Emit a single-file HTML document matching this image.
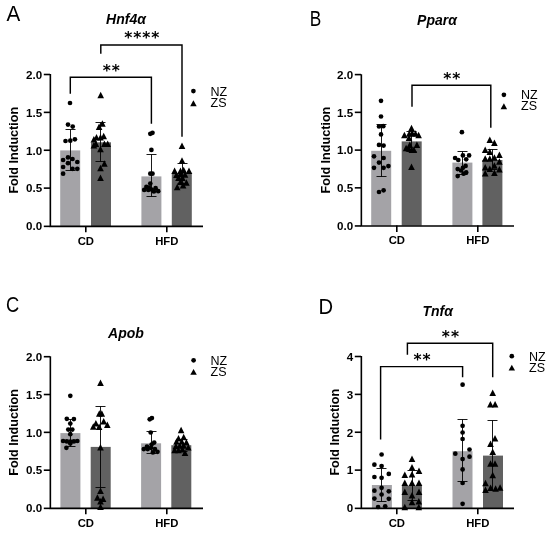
<!DOCTYPE html>
<html lang="en"><head><meta charset="utf-8"><title>Figure</title>
<style>
html,body{margin:0;padding:0;background:#fff;}
svg{display:block;}
text{font-family:"Liberation Sans",sans-serif;fill:#000;}
.pl{font-size:21.3px;}
.ti{font-size:14px;font-weight:bold;font-style:italic;}
.tk{font-size:11.6px;font-weight:bold;}
.xl{font-size:11.3px;}
.yl{font-size:12.6px;font-weight:bold;}
.lg{font-size:12.5px;}
.st{font-family:"DejaVu Sans","Liberation Sans",sans-serif;font-size:15.4px;font-weight:bold;letter-spacing:1.0px;}
.axl{stroke:#000;stroke-width:1.6;fill:none;}
.br{stroke:#000;stroke-width:1.45;fill:none;}
.eb{stroke:#000;stroke-width:0.9;fill:none;}
</style></head>
<body>
<svg width="550" height="534" viewBox="0 0 550 534">
<rect width="550" height="534" fill="#fff"/>
<g fill="#000">
<text class="pl" transform="translate(6.5 21.2) scale(0.97 1)">A</text>
<text class="ti" x="126" y="24.3" text-anchor="middle">Hnf4α</text>
<rect x="60.2" y="150.4" width="20" height="75.6" fill="#a4a3a7"/>
<rect x="91.0" y="142.3" width="20" height="83.7" fill="#616161"/>
<rect x="141.4" y="176.4" width="20" height="49.6" fill="#a4a3a7"/>
<rect x="171.8" y="173.7" width="20" height="52.3" fill="#616161"/>
<path class="axl" d="M50.35 74.05V227.15M49.55 226.35H203.0"/>
<path class="axl" d="M43.8 226.35H50"/>
<text class="tk" x="42.1" y="230.2" text-anchor="end">0.0</text>
<path class="axl" d="M43.8 188.12H50"/>
<text class="tk" x="42.1" y="192.4" text-anchor="end">0.5</text>
<path class="axl" d="M43.8 150.25H50"/>
<text class="tk" x="42.1" y="154.5" text-anchor="end">1.0</text>
<path class="axl" d="M43.8 112.38H50"/>
<text class="tk" x="42.1" y="116.6" text-anchor="end">1.5</text>
<path class="axl" d="M43.8 74.50H50"/>
<text class="tk" x="42.1" y="78.8" text-anchor="end">2.0</text>
<path class="axl" d="M85.8 226V232.3"/>
<text class="tk xl" x="85.8" y="244.6" text-anchor="middle">CD</text>
<path class="axl" d="M166.8 226V232.3"/>
<text class="tk xl" x="166.8" y="244.6" text-anchor="middle">HFD</text>
<text class="yl" transform="translate(18.3 150.2) rotate(-90)" text-anchor="middle">Fold Induction</text>
<circle cx="193.4" cy="91.1" r="2.35"/>
<polygon points="193.4,100.2 196.7,106.2 190.2,106.2"/>
<text class="lg" x="210.6" y="95.7">NZ</text>
<text class="lg" x="210.6" y="107.2">ZS</text>
<path class="eb" d="M70.5 129.5V170.5M65.5 129.5H75.5M65.5 170.5H75.5"/>
<path class="eb" d="M100.5 122.5V161.5M95.5 122.5H105.5M95.5 161.5H105.5"/>
<path class="eb" d="M151.5 154.5V196.5M146.5 154.5H156.5M146.5 196.5H156.5"/>
<path class="eb" d="M182.5 163.5V183.5M177.5 163.5H187.5M177.5 183.5H187.5"/>
<circle cx="70.0" cy="103.0" r="2.35"/>
<circle cx="68.0" cy="124.6" r="2.35"/>
<circle cx="72.7" cy="126.6" r="2.35"/>
<circle cx="65.5" cy="141.0" r="2.35"/>
<circle cx="70.3" cy="140.7" r="2.35"/>
<circle cx="74.9" cy="139.3" r="2.35"/>
<circle cx="68.0" cy="157.4" r="2.35"/>
<circle cx="72.5" cy="159.0" r="2.35"/>
<circle cx="63.1" cy="160.0" r="2.35"/>
<circle cx="77.3" cy="162.0" r="2.35"/>
<circle cx="68.0" cy="163.2" r="2.35"/>
<circle cx="63.1" cy="167.0" r="2.35"/>
<circle cx="72.5" cy="168.8" r="2.35"/>
<circle cx="77.3" cy="168.8" r="2.35"/>
<circle cx="63.1" cy="173.7" r="2.35"/>
<polygon points="100.7,91.8 104.0,98.3 97.4,98.3"/>
<polygon points="102.4,120.3 105.7,126.8 99.1,126.8"/>
<polygon points="99.1,123.5 102.4,130.0 95.8,130.0"/>
<polygon points="93.9,136.0 97.2,142.5 90.6,142.5"/>
<polygon points="96.5,134.0 99.8,140.5 93.2,140.5"/>
<polygon points="100.5,134.0 103.8,140.5 97.2,140.5"/>
<polygon points="103.7,132.7 107.0,139.2 100.4,139.2"/>
<polygon points="93.9,141.9 97.2,148.4 90.6,148.4"/>
<polygon points="95.9,140.5 99.2,147.0 92.6,147.0"/>
<polygon points="104.4,140.5 107.7,147.0 101.1,147.0"/>
<polygon points="107.7,140.5 111.0,147.0 104.4,147.0"/>
<polygon points="100.5,145.8 103.8,152.3 97.2,152.3"/>
<polygon points="104.4,160.2 107.7,166.7 101.1,166.7"/>
<polygon points="100.5,164.8 103.8,171.3 97.2,171.3"/>
<polygon points="100.5,174.6 103.8,181.1 97.2,181.1"/>
<circle cx="150.3" cy="133.8" r="2.35"/>
<circle cx="152.5" cy="132.8" r="2.35"/>
<circle cx="151.4" cy="149.9" r="2.35"/>
<circle cx="150.3" cy="173.7" r="2.35"/>
<circle cx="152.5" cy="173.7" r="2.35"/>
<circle cx="150.3" cy="183.6" r="2.35"/>
<circle cx="146.4" cy="186.9" r="2.35"/>
<circle cx="149.0" cy="187.5" r="2.35"/>
<circle cx="155.6" cy="188.2" r="2.35"/>
<circle cx="144.2" cy="189.9" r="2.35"/>
<circle cx="148.3" cy="189.9" r="2.35"/>
<circle cx="151.6" cy="189.5" r="2.35"/>
<circle cx="153.9" cy="191.5" r="2.35"/>
<circle cx="158.2" cy="191.2" r="2.35"/>
<polygon points="182.0,142.5 185.3,149.0 178.7,149.0"/>
<polygon points="182.0,157.2 185.3,163.7 178.7,163.7"/>
<polygon points="174.6,167.4 177.9,173.9 171.3,173.9"/>
<polygon points="180.5,167.4 183.8,173.9 177.2,173.9"/>
<polygon points="183.7,166.8 187.0,173.3 180.4,173.3"/>
<polygon points="189.0,167.4 192.3,173.9 185.7,173.9"/>
<polygon points="176.5,171.4 179.8,177.9 173.2,177.9"/>
<polygon points="180.5,170.7 183.8,177.2 177.2,177.2"/>
<polygon points="185.0,171.3 188.3,177.8 181.7,177.8"/>
<polygon points="178.5,174.6 181.8,181.1 175.2,181.1"/>
<polygon points="182.4,174.6 185.7,181.1 179.1,181.1"/>
<polygon points="186.4,179.3 189.7,185.8 183.1,185.8"/>
<polygon points="180.5,178.6 183.8,185.1 177.2,185.1"/>
<polygon points="183.1,181.9 186.4,188.4 179.8,188.4"/>
<polygon points="177.2,183.8 180.5,190.3 173.9,190.3"/>
<path class="br" d="M70.3 93.7V77.2H151.4V123.7"/>
<text class="st" x="111.8" y="75.5" text-anchor="middle">**</text>
<path class="br" d="M100.8 53.7V45.0H182.0V136.8"/>
<text class="st" x="142.3" y="43.3" text-anchor="middle">****</text>
<text class="pl" transform="translate(309.8 25.7) scale(0.81 1.035)">B</text>
<text class="ti" x="437" y="25.4" text-anchor="middle">Pparα</text>
<rect x="371.2" y="150.8" width="20" height="74.8" fill="#a4a3a7"/>
<rect x="401.7" y="141.4" width="20" height="84.2" fill="#616161"/>
<rect x="452.4" y="162.6" width="20" height="63.0" fill="#a4a3a7"/>
<rect x="482.4" y="160.0" width="20" height="65.6" fill="#616161"/>
<path class="axl" d="M361.35 74.15V226.75M360.55 225.95H514.0"/>
<path class="axl" d="M354.8 225.95H361"/>
<text class="tk" x="353.1" y="229.8" text-anchor="end">0.0</text>
<path class="axl" d="M354.8 187.85H361"/>
<text class="tk" x="353.1" y="192.1" text-anchor="end">0.5</text>
<path class="axl" d="M354.8 150.10H361"/>
<text class="tk" x="353.1" y="154.3" text-anchor="end">1.0</text>
<path class="axl" d="M354.8 112.35H361"/>
<text class="tk" x="353.1" y="116.6" text-anchor="end">1.5</text>
<path class="axl" d="M354.8 74.60H361"/>
<text class="tk" x="353.1" y="78.8" text-anchor="end">2.0</text>
<path class="axl" d="M396.8 225.6V231.9"/>
<text class="tk xl" x="396.8" y="244.2" text-anchor="middle">CD</text>
<path class="axl" d="M477.8 225.6V231.9"/>
<text class="tk xl" x="477.8" y="244.2" text-anchor="middle">HFD</text>
<text class="yl" transform="translate(329.6 150.1) rotate(-90)" text-anchor="middle">Fold Induction</text>
<circle cx="503.9" cy="94.8" r="2.35"/>
<polygon points="503.9,103.2 507.1,109.2 500.6,109.2"/>
<text class="lg" x="521" y="98.9">NZ</text>
<text class="lg" x="521" y="110.3">ZS</text>
<path class="eb" d="M381.5 124.5V176.5M376.5 124.5H386.5M376.5 176.5H386.5"/>
<path class="eb" d="M411.5 131.5V151.5M406.5 131.5H416.5M406.5 151.5H416.5"/>
<path class="eb" d="M462.5 151.5V174.5M457.5 151.5H467.5M457.5 174.5H467.5"/>
<path class="eb" d="M492.5 149.5V169.5M487.5 149.5H497.5M487.5 169.5H497.5"/>
<circle cx="381.0" cy="100.8" r="2.35"/>
<circle cx="381.0" cy="116.5" r="2.35"/>
<circle cx="379.0" cy="126.5" r="2.35"/>
<circle cx="383.3" cy="126.2" r="2.35"/>
<circle cx="381.0" cy="134.4" r="2.35"/>
<circle cx="379.0" cy="144.9" r="2.35"/>
<circle cx="383.6" cy="145.6" r="2.35"/>
<circle cx="374.0" cy="156.3" r="2.35"/>
<circle cx="383.6" cy="158.0" r="2.35"/>
<circle cx="379.0" cy="162.6" r="2.35"/>
<circle cx="374.0" cy="167.8" r="2.35"/>
<circle cx="383.6" cy="167.8" r="2.35"/>
<circle cx="388.4" cy="166.1" r="2.35"/>
<circle cx="379.0" cy="192.0" r="2.35"/>
<circle cx="383.6" cy="190.3" r="2.35"/>
<polygon points="411.5,124.8 414.8,131.3 408.2,131.3"/>
<polygon points="404.4,131.7 407.7,138.2 401.1,138.2"/>
<polygon points="418.6,131.7 421.9,138.2 415.3,138.2"/>
<polygon points="409.3,130.3 412.6,136.8 406.0,136.8"/>
<polygon points="412.3,130.1 415.6,136.6 409.0,136.6"/>
<polygon points="415.5,130.3 418.8,136.8 412.2,136.8"/>
<polygon points="409.0,134.4 412.3,140.9 405.7,140.9"/>
<polygon points="409.8,141.5 413.1,148.0 406.5,148.0"/>
<polygon points="416.9,141.5 420.2,148.0 413.6,148.0"/>
<polygon points="406.1,144.8 409.4,151.3 402.8,151.3"/>
<polygon points="408.8,145.0 412.1,151.5 405.5,151.5"/>
<polygon points="411.8,146.5 415.1,153.0 408.5,153.0"/>
<polygon points="413.9,146.5 417.2,153.0 410.6,153.0"/>
<polygon points="411.5,163.5 414.8,170.0 408.2,170.0"/>
<circle cx="461.9" cy="132.2" r="2.35"/>
<circle cx="455.1" cy="158.0" r="2.35"/>
<circle cx="462.9" cy="155.4" r="2.35"/>
<circle cx="469.1" cy="155.4" r="2.35"/>
<circle cx="458.3" cy="160.0" r="2.35"/>
<circle cx="466.2" cy="159.3" r="2.35"/>
<circle cx="465.6" cy="165.9" r="2.35"/>
<circle cx="462.9" cy="167.8" r="2.35"/>
<circle cx="457.7" cy="169.1" r="2.35"/>
<circle cx="461.0" cy="170.5" r="2.35"/>
<circle cx="466.2" cy="172.4" r="2.35"/>
<circle cx="463.6" cy="173.7" r="2.35"/>
<circle cx="457.7" cy="176.1" r="2.35"/>
<polygon points="489.8,136.6 493.1,143.1 486.5,143.1"/>
<polygon points="494.4,139.6 497.7,146.1 491.1,146.1"/>
<polygon points="485.2,146.4 488.5,152.9 481.9,152.9"/>
<polygon points="489.8,148.4 493.1,154.9 486.5,154.9"/>
<polygon points="499.4,151.4 502.7,157.9 496.1,157.9"/>
<polygon points="485.2,155.2 488.5,161.7 481.9,161.7"/>
<polygon points="489.8,155.2 493.1,161.7 486.5,161.7"/>
<polygon points="494.4,154.3 497.7,160.8 491.1,160.8"/>
<polygon points="499.4,158.3 502.7,164.8 496.1,164.8"/>
<polygon points="494.4,162.2 497.7,168.7 491.1,168.7"/>
<polygon points="485.2,164.1 488.5,170.6 481.9,170.6"/>
<polygon points="489.8,165.4 493.1,171.9 486.5,171.9"/>
<polygon points="499.4,166.1 502.7,172.6 496.1,172.6"/>
<polygon points="494.4,169.4 497.7,175.9 491.1,175.9"/>
<polygon points="485.2,170.0 488.5,176.5 481.9,176.5"/>
<path class="br" d="M412.0 106.7V85.3H490.8V127.7"/>
<text class="st" x="452.3" y="83.6" text-anchor="middle">**</text>
<text class="pl" transform="translate(6.1 311.8) scale(0.86 1.045)">C</text>
<text class="ti" x="126" y="337.9" text-anchor="middle">Apob</text>
<rect x="60.4" y="433.1" width="20" height="74.9" fill="#a4a3a7"/>
<rect x="90.7" y="446.9" width="20" height="61.1" fill="#616161"/>
<rect x="141.1" y="443.3" width="20" height="64.7" fill="#a4a3a7"/>
<rect x="171.3" y="445.2" width="20" height="62.8" fill="#616161"/>
<path class="axl" d="M50.35 356.25V509.15M49.55 508.35H203.0"/>
<path class="axl" d="M43.8 508.35H50"/>
<text class="tk" x="42.1" y="512.2" text-anchor="end">0.0</text>
<path class="axl" d="M43.8 470.18H50"/>
<text class="tk" x="42.1" y="474.4" text-anchor="end">0.5</text>
<path class="axl" d="M43.8 432.35H50"/>
<text class="tk" x="42.1" y="436.6" text-anchor="end">1.0</text>
<path class="axl" d="M43.8 394.52H50"/>
<text class="tk" x="42.1" y="398.8" text-anchor="end">1.5</text>
<path class="axl" d="M43.8 356.70H50"/>
<text class="tk" x="42.1" y="360.9" text-anchor="end">2.0</text>
<path class="axl" d="M85.8 508V514.3"/>
<text class="tk xl" x="85.8" y="526.6" text-anchor="middle">CD</text>
<path class="axl" d="M166.8 508V514.3"/>
<text class="tk xl" x="166.8" y="526.6" text-anchor="middle">HFD</text>
<text class="yl" transform="translate(18.3 432.4) rotate(-90)" text-anchor="middle">Fold Induction</text>
<circle cx="193.6" cy="360.3" r="2.35"/>
<polygon points="193.6,368.9 196.8,374.8 190.3,374.8"/>
<text class="lg" x="210.6" y="365">NZ</text>
<text class="lg" x="210.6" y="376.4">ZS</text>
<path class="eb" d="M70.5 419.5V446.5M65.5 419.5H75.5M65.5 446.5H75.5"/>
<path class="eb" d="M100.5 406.5V487.5M95.5 406.5H105.5M95.5 487.5H105.5"/>
<path class="eb" d="M151.5 431.5V453.5M146.5 431.5H156.5M146.5 453.5H156.5"/>
<path class="eb" d="M182.5 439.5V451.5M177.5 439.5H187.5M177.5 451.5H187.5"/>
<circle cx="70.3" cy="395.8" r="2.35"/>
<circle cx="66.8" cy="418.8" r="2.35"/>
<circle cx="73.9" cy="419.1" r="2.35"/>
<circle cx="70.3" cy="423.6" r="2.35"/>
<circle cx="68.3" cy="429.6" r="2.35"/>
<circle cx="72.3" cy="429.6" r="2.35"/>
<circle cx="70.3" cy="434.2" r="2.35"/>
<circle cx="63.1" cy="441.0" r="2.35"/>
<circle cx="66.8" cy="441.4" r="2.35"/>
<circle cx="70.3" cy="441.6" r="2.35"/>
<circle cx="73.9" cy="441.4" r="2.35"/>
<circle cx="77.3" cy="441.0" r="2.35"/>
<circle cx="70.3" cy="443.6" r="2.35"/>
<circle cx="66.4" cy="447.8" r="2.35"/>
<polygon points="100.5,379.4 103.8,385.9 97.2,385.9"/>
<polygon points="99.3,410.2 102.6,416.7 96.0,416.7"/>
<polygon points="101.8,410.2 105.1,416.7 98.5,416.7"/>
<polygon points="95.9,420.0 99.2,426.5 92.6,426.5"/>
<polygon points="103.7,418.1 107.0,424.6 100.4,424.6"/>
<polygon points="93.3,423.3 96.6,429.8 90.0,429.8"/>
<polygon points="99.1,423.6 102.4,430.1 95.8,430.1"/>
<polygon points="107.3,421.6 110.6,428.1 104.0,428.1"/>
<polygon points="100.5,444.1 103.8,450.6 97.2,450.6"/>
<polygon points="100.5,487.5 103.8,494.0 97.2,494.0"/>
<polygon points="97.4,494.3 100.7,500.8 94.1,500.8"/>
<polygon points="103.1,495.6 106.4,502.1 99.8,502.1"/>
<polygon points="100.5,498.0 103.8,504.5 97.2,504.5"/>
<polygon points="100.5,503.5 103.8,510.0 97.2,510.0"/>
<circle cx="149.7" cy="419.3" r="2.35"/>
<circle cx="151.9" cy="418.1" r="2.35"/>
<circle cx="150.7" cy="432.5" r="2.35"/>
<circle cx="154.2" cy="442.6" r="2.35"/>
<circle cx="151.6" cy="444.6" r="2.35"/>
<circle cx="147.0" cy="446.5" r="2.35"/>
<circle cx="143.8" cy="449.1" r="2.35"/>
<circle cx="147.7" cy="449.1" r="2.35"/>
<circle cx="151.0" cy="447.8" r="2.35"/>
<circle cx="154.9" cy="449.1" r="2.35"/>
<circle cx="157.5" cy="451.8" r="2.35"/>
<circle cx="152.9" cy="452.4" r="2.35"/>
<polygon points="181.1,426.7 184.4,433.2 177.8,433.2"/>
<polygon points="178.5,435.0 181.8,441.5 175.2,441.5"/>
<polygon points="183.7,433.7 187.0,440.2 180.4,440.2"/>
<polygon points="176.5,438.2 179.8,444.7 173.2,444.7"/>
<polygon points="181.8,438.2 185.1,444.7 178.5,444.7"/>
<polygon points="186.4,438.9 189.7,445.4 183.1,445.4"/>
<polygon points="175.9,442.8 179.2,449.3 172.6,449.3"/>
<polygon points="179.8,442.2 183.1,448.7 176.5,448.7"/>
<polygon points="183.7,442.2 187.0,448.7 180.4,448.7"/>
<polygon points="188.3,444.1 191.6,450.6 185.0,450.6"/>
<polygon points="174.6,446.8 177.9,453.3 171.3,453.3"/>
<polygon points="178.5,446.8 181.8,453.3 175.2,453.3"/>
<polygon points="182.4,446.1 185.7,452.6 179.1,452.6"/>
<polygon points="185.0,449.4 188.3,455.9 181.7,455.9"/>
<text class="pl" transform="translate(318.4 314.4) scale(0.95 1)">D</text>
<text class="ti" x="437.7" y="316" text-anchor="middle">Tnfα</text>
<rect x="371.9" y="485.0" width="20" height="23.0" fill="#a4a3a7"/>
<rect x="401.9" y="485.7" width="20" height="22.3" fill="#616161"/>
<rect x="452.5" y="451.2" width="20" height="56.8" fill="#a4a3a7"/>
<rect x="483.0" y="455.6" width="20" height="52.4" fill="#616161"/>
<path class="axl" d="M361.35 356.05V509.15M360.55 508.35H514.0"/>
<path class="axl" d="M354.8 508.35H361"/>
<text class="tk" x="353.1" y="512.2" text-anchor="end">0</text>
<path class="axl" d="M354.8 470.12H361"/>
<text class="tk" x="353.1" y="474.4" text-anchor="end">1</text>
<path class="axl" d="M354.8 432.25H361"/>
<text class="tk" x="353.1" y="436.5" text-anchor="end">2</text>
<path class="axl" d="M354.8 394.38H361"/>
<text class="tk" x="353.1" y="398.6" text-anchor="end">3</text>
<path class="axl" d="M354.8 356.50H361"/>
<text class="tk" x="353.1" y="360.8" text-anchor="end">4</text>
<path class="axl" d="M396.8 508V514.3"/>
<text class="tk xl" x="396.8" y="526.6" text-anchor="middle">CD</text>
<path class="axl" d="M477.8 508V514.3"/>
<text class="tk xl" x="477.8" y="526.6" text-anchor="middle">HFD</text>
<text class="yl" transform="translate(339.4 432.2) rotate(-90)" text-anchor="middle">Fold Induction</text>
<circle cx="511.8" cy="356.2" r="2.35"/>
<polygon points="511.8,364.7 515.0,370.6 508.6,370.6"/>
<text class="lg" x="529.1" y="360.5">NZ</text>
<text class="lg" x="529.1" y="371.9">ZS</text>
<path class="eb" d="M381.5 468.5V501.5M376.5 468.5H386.5M376.5 501.5H386.5"/>
<path class="eb" d="M412.5 470.5V500.5M407.5 470.5H417.5M407.5 500.5H417.5"/>
<path class="eb" d="M462.5 419.5V481.5M457.5 419.5H467.5M457.5 481.5H467.5"/>
<path class="eb" d="M492.5 420.5V490.5M487.5 420.5H497.5M487.5 490.5H497.5"/>
<circle cx="381.6" cy="454.5" r="2.35"/>
<circle cx="374.4" cy="464.7" r="2.35"/>
<circle cx="381.6" cy="466.0" r="2.35"/>
<circle cx="388.8" cy="473.9" r="2.35"/>
<circle cx="374.4" cy="477.0" r="2.35"/>
<circle cx="381.6" cy="477.8" r="2.35"/>
<circle cx="381.6" cy="487.8" r="2.35"/>
<circle cx="374.4" cy="490.7" r="2.35"/>
<circle cx="388.8" cy="491.3" r="2.35"/>
<circle cx="381.6" cy="494.5" r="2.35"/>
<circle cx="374.4" cy="498.6" r="2.35"/>
<circle cx="388.8" cy="498.8" r="2.35"/>
<circle cx="378.1" cy="507.0" r="2.35"/>
<circle cx="385.2" cy="506.3" r="2.35"/>
<polygon points="412.0,455.4 415.3,461.9 408.7,461.9"/>
<polygon points="412.0,463.9 415.3,470.4 408.7,470.4"/>
<polygon points="419.0,467.6 422.3,474.1 415.7,474.1"/>
<polygon points="404.8,471.5 408.1,478.0 401.5,478.0"/>
<polygon points="412.0,470.9 415.3,477.4 408.7,477.4"/>
<polygon points="404.8,479.4 408.1,485.9 401.5,485.9"/>
<polygon points="412.0,479.4 415.3,485.9 408.7,485.9"/>
<polygon points="419.0,479.4 422.3,485.9 415.7,485.9"/>
<polygon points="404.8,488.5 408.1,495.0 401.5,495.0"/>
<polygon points="419.0,488.5 422.3,495.0 415.7,495.0"/>
<polygon points="412.0,492.1 415.3,498.6 408.7,498.6"/>
<polygon points="418.8,497.9 422.1,504.4 415.5,504.4"/>
<polygon points="412.0,498.8 415.3,505.3 408.7,505.3"/>
<polygon points="404.8,503.7 408.1,510.2 401.5,510.2"/>
<polygon points="418.8,503.7 422.1,510.2 415.5,510.2"/>
<circle cx="462.6" cy="384.7" r="2.35"/>
<circle cx="462.6" cy="425.8" r="2.35"/>
<circle cx="462.6" cy="432.5" r="2.35"/>
<circle cx="462.6" cy="439.0" r="2.35"/>
<circle cx="469.5" cy="449.5" r="2.35"/>
<circle cx="455.3" cy="453.7" r="2.35"/>
<circle cx="469.5" cy="456.7" r="2.35"/>
<circle cx="462.6" cy="459.1" r="2.35"/>
<circle cx="462.6" cy="469.4" r="2.35"/>
<circle cx="462.6" cy="483.0" r="2.35"/>
<circle cx="462.6" cy="503.8" r="2.35"/>
<polygon points="492.7,389.5 496.0,396.0 489.4,396.0"/>
<polygon points="490.4,401.1 493.7,407.6 487.1,407.6"/>
<polygon points="495.1,401.1 498.4,407.6 491.8,407.6"/>
<polygon points="495.0,434.9 498.3,441.4 491.7,441.4"/>
<polygon points="490.5,440.5 493.8,447.0 487.2,447.0"/>
<polygon points="492.7,448.4 496.0,454.9 489.4,454.9"/>
<polygon points="490.5,460.2 493.8,466.7 487.2,466.7"/>
<polygon points="495.0,460.2 498.3,466.7 491.7,466.7"/>
<polygon points="492.7,471.8 496.0,478.3 489.4,478.3"/>
<polygon points="485.5,479.8 488.8,486.3 482.2,486.3"/>
<polygon points="485.5,486.5 488.8,493.0 482.2,493.0"/>
<polygon points="490.6,484.6 493.9,491.1 487.3,491.1"/>
<polygon points="495.6,485.2 498.9,491.7 492.3,491.7"/>
<polygon points="500.1,484.3 503.4,490.8 496.8,490.8"/>
<path class="br" d="M380.6 439.4V366.6H462.6V377.2"/>
<text class="st" x="422.5" y="364.9" text-anchor="middle">**</text>
<path class="br" d="M407.4 354.8V343.2H492.7V377.2"/>
<text class="st" x="450.9" y="341.5" text-anchor="middle">**</text>
</g>
</svg>
</body></html>
